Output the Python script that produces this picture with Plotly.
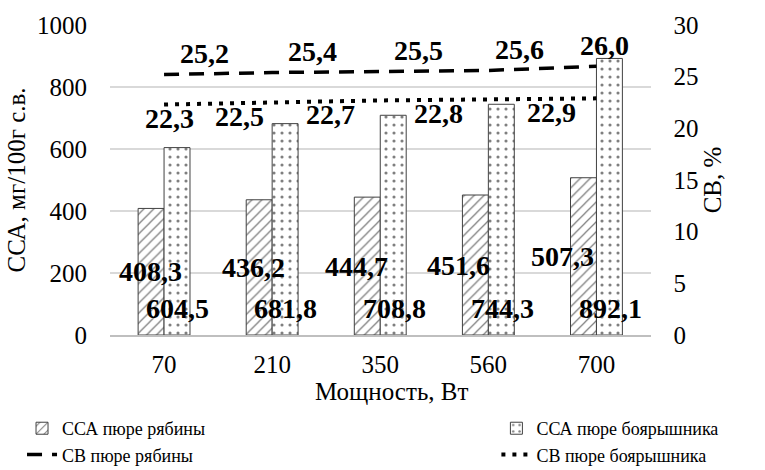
import plotly.graph_objects as go
from plotly.subplots import make_subplots

# Microwave power, W
power = ["70", "210", "350", "560", "700"]
# Total antioxidant content, mg/100 g dry matter
ssa_rowan = [408.3, 436.2, 444.7, 451.6, 507.3]
ssa_hawthorn = [604.5, 681.8, 708.8, 744.3, 892.1]
# Dry matter, %
dm_rowan = [25.2, 25.4, 25.5, 25.6, 26.0]
dm_hawthorn = [22.3, 22.5, 22.7, 22.8, 22.9]

FONT = "Liberation Serif, Times New Roman, serif"
LABEL_FONT = dict(family=FONT, size=28, color="black", weight="bold")


def fmt(v):
    return f"{v:.1f}".replace(".", ",")


fig = make_subplots(specs=[[{"secondary_y": True}]])

fig.add_trace(go.Bar(
    x=power, y=ssa_rowan, name="ССА пюре рябины", legend="legend",
    marker=dict(color="white", line=dict(color="#404040", width=1),
                pattern=dict(shape="/", fgcolor="black", bgcolor="white",
                             size=7, solidity=0.18)),
), secondary_y=False)

fig.add_trace(go.Bar(
    x=power, y=ssa_hawthorn, name="ССА пюре боярышника", legend="legend2",
    marker=dict(color="white", line=dict(color="#404040", width=1),
                pattern=dict(shape=".", fgcolor="black", bgcolor="white",
                             size=8, solidity=0.12)),
), secondary_y=False)

fig.add_trace(go.Scatter(
    x=power, y=dm_rowan, name="СВ пюре рябины", mode="lines", legend="legend",
    line=dict(color="black", width=3.5, dash="15px,10px"),
), secondary_y=True)

fig.add_trace(go.Scatter(
    x=power, y=dm_hawthorn, name="СВ пюре боярышника", mode="lines", legend="legend2",
    line=dict(color="black", width=4, dash="4px,7px"),
), secondary_y=True)

# value labels (annotation x uses the category index on the category axis)
bar_half = 13.75
rowan_bar_dx = [0, -5, -10, -16, -20]
dm_rowan_dx = [40, 40, 38, 31, 8]
dm_hawthorn_dx = [5, -33, -50, -50, -45]

annotations = []
for i in range(len(power)):
    annotations.append(dict(
        x=i, y=ssa_rowan[i] / 2, xref="x", yref="y",
        text=fmt(ssa_rowan[i]), showarrow=False, font=LABEL_FONT,
        xshift=-bar_half + rowan_bar_dx[i]))
    annotations.append(dict(
        x=i, y=0, xref="x", yref="y",
        text=fmt(ssa_hawthorn[i]), showarrow=False, font=LABEL_FONT,
        xshift=bar_half, yshift=27))
    annotations.append(dict(
        x=i, y=dm_rowan[i], xref="x", yref="y2",
        text=fmt(dm_rowan[i]), showarrow=False, font=LABEL_FONT,
        xshift=dm_rowan_dx[i], yshift=21))
    annotations.append(dict(
        x=i, y=dm_hawthorn[i], xref="x", yref="y2",
        text=fmt(dm_hawthorn[i]), showarrow=False, font=LABEL_FONT,
        xshift=dm_hawthorn_dx[i], yshift=-14))

# x-axis title
annotations.append(dict(
    x=0.49, y=-0.182, xref="paper", yref="paper", xanchor="center", yanchor="middle",
    text="Мощность, Вт", showarrow=False, font=dict(family=FONT, size=25)))

legend_common = dict(orientation="v", yanchor="top", y=-0.242, xanchor="left",
                     font=dict(family=FONT, size=18), tracegroupgap=0,
                     bgcolor="rgba(0,0,0,0)", traceorder="normal")

fig.update_layout(
    width=765, height=470,
    margin=dict(l=110, r=80, t=25, b=135, autoexpand=False),
    paper_bgcolor="white", plot_bgcolor="white",
    font=dict(family=FONT, size=25, color="black"),
    barmode="group", bargap=0.52, bargroupgap=0,
    showlegend=True,
    legend=dict(x=-0.153, **legend_common),
    legend2=dict(x=0.672, **legend_common),
    annotations=annotations,
)

fig.update_xaxes(
    type="category", range=[-0.5, len(power) - 0.5],
    showline=True, linecolor="#bfbfbf", linewidth=1.5,
    showgrid=False, ticks="", ticklabelstandoff=6,
    tickfont=dict(family=FONT, size=25),
)
fig.update_yaxes(
    range=[0, 1000], dtick=200, showgrid=True, gridcolor="#d9d9d9", gridwidth=1.5,
    zeroline=False, showline=False, ticks="", ticklabelstandoff=22,
    tickfont=dict(family=FONT, size=25),
    title=dict(text="ССА, мг/100г с.в.", font=dict(family=FONT, size=25), standoff=4),
    secondary_y=False,
)
fig.update_yaxes(
    range=[0, 30], dtick=5, showgrid=False, zeroline=False, showline=False,
    ticks="", ticklabelstandoff=22,
    tickfont=dict(family=FONT, size=25),
    title=dict(text="СВ, %", font=dict(family=FONT, size=25), standoff=0),
    secondary_y=True,
)

fig.write_html("out.html")
